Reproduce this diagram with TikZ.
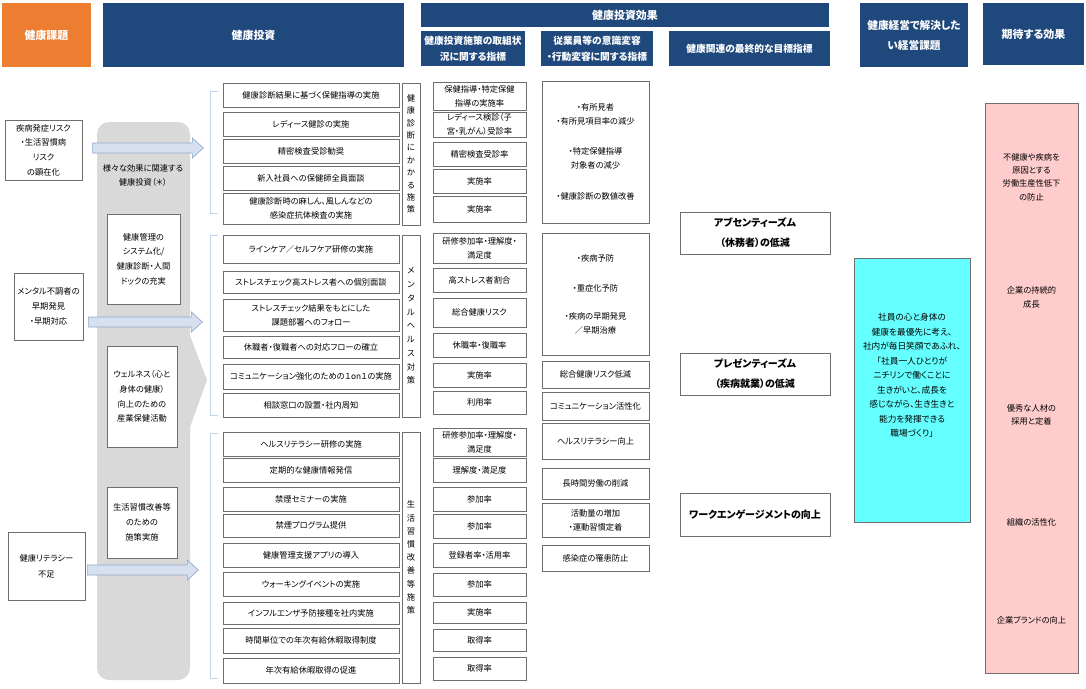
\documentclass[tikz,border=0pt]{standalone}
\usepackage{fontspec}
\setmainfont{Noto Sans CJK JP}[RawFeature={+palt}]

\definecolor{navy}{RGB}{31,73,125}
\definecolor{hdrorange}{RGB}{237,125,49}
\definecolor{colgray}{RGB}{217,217,217}
\definecolor{boxline}{RGB}{110,110,110}
\definecolor{brkblue}{RGB}{189,215,238}
\definecolor{arrowfill}{RGB}{214,224,240}
\definecolor{arrowline}{RGB}{143,170,204}
\definecolor{purposecyan}{RGB}{102,255,255}
\definecolor{effectpink}{RGB}{255,204,204}

\begin{document}
\begin{tikzpicture}[x=0.75pt, y=-0.75pt,
    sz/.style 2 args={minimum width=#1*0.75pt, minimum height=#2*0.75pt},
    hdr/.style={fill=navy, text=white, inner sep=0pt, align=center, font=\bfseries\fontsize{8.2}{12}\selectfont},
    subhdr/.style={hdr, font=\bfseries\fontsize{7.3}{11.8}\selectfont},
    txtbox/.style={draw=boxline, line width=0.5pt, fill=white, inner sep=0pt, align=center, font=\fontsize{6.2}{10.5}\selectfont},
    goalbox/.style={txtbox, font=\bfseries\fontsize{7.5}{15}\selectfont},
    plaintxt/.style={inner sep=0pt, align=center, font=\fontsize{6.2}{10.5}\selectfont},
    bluearrow/.style={draw=arrowline, fill=arrowfill, line width=0.5pt},
    bracket/.style={draw=brkblue, line width=0.6pt}
  ]
  \useasboundingbox (0,0) rectangle (1086,689);

  % Header row
  \node[hdr, fill=hdrorange, sz={89}{64}] (hissue) at (46.5,35) {健康課題};
  \node[hdr, sz={301}{64}] (hinvest) at (253.5,35) {健康投資};
  \node[hdr, sz={408}{24}] (heffect) at (625,15) {健康投資効果};
  \node[subhdr, sz={104}{35}] (hmeasure) at (473,48.5) {健康投資施策の取組状\\況に関する指標};
  \node[subhdr, sz={112}{35}] (hbehav) at (597,48.5) {従業員等の意識変容\\・行動変容に関する指標};
  \node[subhdr, sz={161}{35}] (hgoal) at (749.5,48.5) {健康関連の最終的な目標指標};
  \node[hdr, sz={108}{64}, font=\bfseries\fontsize{8}{15}\selectfont] (hpurpose) at (914,35) {健康経営で解決した\\い経営課題};
  \node[hdr, sz={101}{62}] (hexpect) at (1033.5,34) {期待する効果};

  % Health issues
  \node[txtbox, sz={77}{60}, font=\fontsize{6.2}{11}\selectfont] (risk) at (43.5,150) {疾病発症リスク\\・生活習慣病\\リスク\\の顕在化};
  \node[txtbox, sz={69}{67}, font=\fontsize{6.2}{11}\selectfont] (mental) at (48.5,306.5) {メンタル不調者の\\早期発見\\・早期対応};
  \node[txtbox, sz={77}{68}, font=\fontsize{6.2}{12}\selectfont] (literacy) at (46.5,566) {健康リテラシー\\不足};

  % Gray investment column
  \fill[colgray, rounded corners=9pt] (97,122) rectangle (190,680);
  \fill[colgray] (189,333) -- (207,380) -- (189,430) -- cycle;
  \node[plaintxt, font=\fontsize{6.2}{11}\selectfont] (colnote) at (143,175.5) {様々な効果に関連する\\健康投資（＊）};
  \node[txtbox, sz={73}{90}, font=\fontsize{6.2}{11}\selectfont] (sys) at (143.5,259) {健康管理の\\システム化/\\健康診断・人間\\ドックの充実};
  \node[txtbox, sz={70}{101}, font=\fontsize{6.2}{11}\selectfont] (wellness) at (142,396.5) {ウェルネス（心と\\身体の健康）\\向上のための\\産業保健活動};
  \node[txtbox, sz={70}{71}, font=\fontsize{6.2}{11}\selectfont] (lifestyle) at (142,522.5) {生活習慣改善等\\のための\\施策実施};

  % Block arrows from issues
  \foreach \src/\gap/\yy/\len in {risk/10/148/100, mental/5/322/103, literacy/2/570/100}
    \draw[bluearrow] (\src.east |- 0,\yy) ++(\gap,-5) -- ++(\len,0) -- ++(0,-5) -- ++(11,10)
      -- ++(-11,10) -- ++(0,-5) -- ++(-\len,0) -- cycle;

  % Brackets
  \foreach \ya/\yb in {91/213, 235/415, 433/678}
    \draw[bracket] (218,\ya) -- (210,\ya) -- (210,\yb) -- (218,\yb);

  % Measures
  \foreach \n/\yy/\hh/\t in {
      1/95/24/{健康診断結果に基づく保健指導の実施},
      2/124/24/{レディース健診の実施},
      3/151/24/{精密検査受診勧奨},
      4/178/24/{新入社員への保健師全員面談},
      5/208.5/31/{健康診断時の麻しん、風しんなどの\\感染症抗体検査の実施},
      6/249/28/{ラインケア／セルフケア研修の実施},
      7/282/22/{ストレスチェック高ストレス者への個別面談},
      8/315/32/{ストレスチェック結果をもとにした\\課題部署へのフォロー},
      9/347/22/{休職者・復職者への対応フローの確立},
      10/376.5/25/{コミュニケーション強化のための１on１の実施},
      11/405/24/{相談窓口の設置・社内周知},
      12/444/24/{ヘルスリテラシー研修の実施},
      13/470/24/{定期的な健康情報発信},
      14/499/24/{禁煙セミナーの実施},
      15/525.5/23/{禁煙プログラム提供},
      16/555/24/{健康管理支援アプリの導入},
      17/584/24/{ウォーキングイベントの実施},
      18/613/22/{インフルエンザ予防接種を社内実施},
      19/640.5/25/{時間単位での年次有給休暇取得制度},
      20/670.5/25/{年次有給休暇取得の促進}}
    \node[txtbox, sz={176}{\hh}] (inv\n) at (311,\yy) {\t};

  % Vertical group labels
  \node[txtbox, sz={18}{142}, font=\fontsize{6.2}{9.3}\selectfont] (vcheck) at (411,154) {健\\康\\診\\断\\に\\か\\か\\る\\施\\策};
  \node[txtbox, sz={18}{182}, font=\fontsize{6.2}{10.3}\selectfont] (vmental) at (411,326) {メ\\ン\\タ\\ル\\ヘ\\ル\\ス\\対\\策};
  \node[txtbox, sz={18}{251}, font=\fontsize{6.2}{9.9}\selectfont] (vlife) at (411,557.5) {生\\活\\習\\慣\\改\\善\\等\\施\\策};

  % Indicators of measures
  \foreach \n/\yy/\hh/\t in {
      1/96/28/{保健指導・特定保健\\指導の実施率},
      2/124.5/25/{レディース検診（子\\宮・乳がん）受診率},
      3/154/24/{精密検査受診率},
      4/181/24/{実施率},
      5/209/26/{実施率},
      6/248/30/{研修参加率・理解度・\\満足度},
      7/280/24/{高ストレス者割合},
      8/312.5/29/{総合健康リスク},
      9/345/24/{休職率・復職率},
      10/375/24/{実施率},
      11/402.5/23/{利用率},
      12/442/28/{研修参加率・理解度・\\満足度},
      13/470/24/{理解度・満足度},
      14/499/24/{参加率},
      15/526/24/{参加率},
      16/555/24/{登録者率・活用率},
      17/584.5/23/{参加率},
      18/612.5/21/{実施率},
      19/640/22/{取得率},
      20/668.5/23/{取得率}}
    \node[txtbox, sz={93}{\hh}] (kpi\n) at (479.5,\yy) {\t};

  % Behaviour change indicators
  \node[txtbox, sz={107}{142}] (beh1) at (595.5,152) {・有所見者\\・有所見項目率の減少\\[12pt]・特定保健指導\\対象者の減少\\[13pt]・健康診断の数値改善};
  \node[txtbox, sz={107}{122}] (beh2) at (595.5,294) {・疾病予防\\[12pt]・重症化予防\\[10.5pt]・疾病の早期発見\\／早期治療};
  \foreach \n/\yy/\hh/\t in {
      3/374.5/27/{総合健康リスク低減},
      4/406/28/{コミュニケーション活性化},
      5/441/36/{ヘルスリテラシー向上},
      6/483.5/31/{長時間労働の削減},
      7/520/34/{活動量の増加\\・運動習慣定着},
      8/558/26/{感染症の罹患防止}}
    \node[txtbox, sz={107}{\hh}] (beh\n) at (595.5,\yy) {\t};

  % Final goals
  \node[goalbox, sz={150}{42}] (absent) at (755,233) {アブセンティーズム\\（休務者）の低減};
  \node[goalbox, sz={150}{42}] (present) at (755,374) {プレゼンティーズム\\（疾病就業）の低減};
  \node[goalbox, sz={150}{43}] (engage) at (755,514.5) {ワークエンゲージメントの向上};

  % Management issue
  \node[draw=boxline, line width=0.5pt, fill=purposecyan, sz={116}{264}] (purpose) at (912,390) {};
  \node[plaintxt, font=\fontsize{6.5}{10.9}\selectfont] (purposetxt) at (912,375.5) {社員の心と身体の\\健康を最優先に考え、\\社内が毎日笑顔であふれ、\\「社員一人ひとりが\\ニチリンで働くことに\\生きがいと、成長を\\感じながら、生き生きと\\能力を発揮できる\\職場づくり」};

  % Expected effects
  \node[draw=boxline, line width=0.5pt, fill=effectpink, sz={93}{570}] (effect) at (1031.5,388) {};
  \foreach \n/\yy/\t in {
      1/177/{不健康や疾病を\\原因とする\\労働生産性低下\\の防止},
      2/297.5/{企業の持続的\\成長},
      3/415/{優秀な人材の\\採用と定着},
      4/522/{組織の活性化},
      5/620/{企業ブランドの向上}}
    \node[plaintxt, font=\fontsize{6.2}{10}\selectfont] (eff\n) at (1031.5,\yy) {\t};

\end{tikzpicture}
\end{document}
